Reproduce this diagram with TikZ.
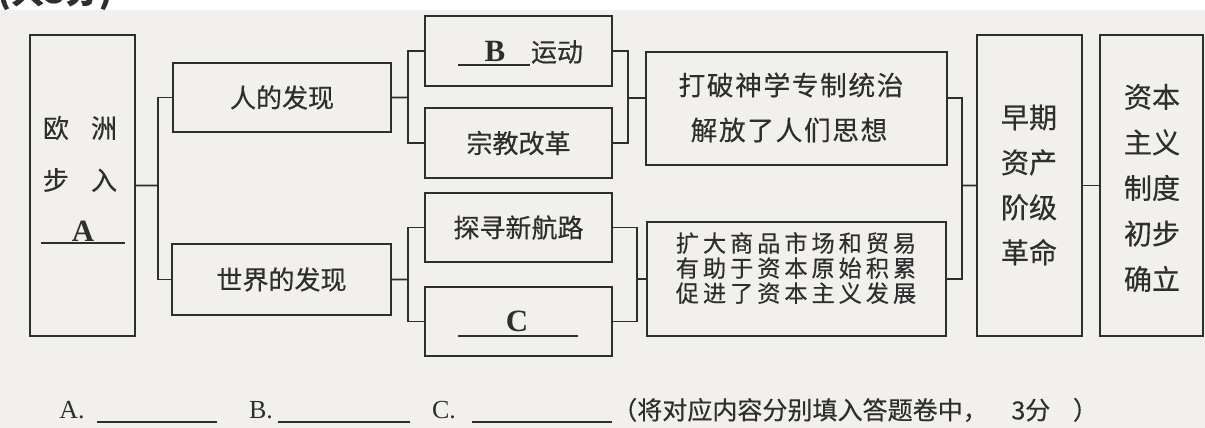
\documentclass[tikz,border=0pt]{standalone}
\usepackage{fontspec}
\setmainfont{Liberation Serif}
\newfontfamily\hei[FakeBold=0.4]{Noto Sans CJK SC}
\newfontfamily\heiwide[LetterSpace=6, FakeBold=0.4]{Noto Sans CJK SC}
\newfontfamily\heiwider[LetterSpace=17, FakeBold=0.4]{Noto Sans CJK SC}
\usetikzlibrary{fit}
\definecolor{ink}{HTML}{2E2E2E}
\definecolor{paper}{HTML}{F2F0EC}
\begin{document}
\begin{tikzpicture}[x=0.025cm, y=-0.025cm,
  every node/.style={text=ink},
  box/.style={draw=ink, line width=1.2pt, inner sep=0pt},
  link/.style={draw=ink, line width=1.2pt},
  rule/.style={draw=ink, line width=0.8pt},
  txt/.style={font=\hei\fontsize{18.5}{22}\selectfont},
  big/.style={font=\hei\fontsize{20}{32}\selectfont, align=center},
  lab/.style={font=\bfseries\fontsize{22}{24}\selectfont},
  ser/.style={font=\fontsize{18.5}{22}\selectfont}]

\useasboundingbox (0, 0) rectangle (1205, 428);
\fill[paper] (0, 10) rectangle (1205, 428) {};
\node[font=\hei\bfseries\fontsize{24}{26}\selectfont, anchor=base west, inner sep=0pt] (score) at (-3, 3) {(共3分)};

% left column
\node[box, fit={(30, 35) (135, 336)}] (europe) {};
\node[txt] (europe1) at (80, 128) {欧\hspace{0.85em}洲};
\node[txt] (europe2) at (80, 180) {步\hspace{0.85em}入};
\node[lab] (blankA) at (83, 231) {A};
\draw[rule] (41, 243) -- (125, 243) {};

\node[box, fit={(173, 63) (391, 132)}] (human) {};
\node[txt] (human1) at (human.center) {人的发现};
\node[box, fit={(172, 244) (391, 315)}] (world) {};
\node[txt] (world1) at (world.center) {世界的发现};

\coordinate (j1) at (158, 185.5);
\draw[link] (europe) -- (j1) {};
\draw[link] (human.west) -| (j1) |- (world.west) {};

% middle column
\node[box, fit={(425, 16) (612, 86)}] (move) {};
\node[lab] (blankB) at (495, 51) {B};
\draw[rule] (458, 65) -- (530, 65) {};
\node[txt] (move1) at (557, 52) {运动};
\node[box, fit={(425, 108) (612, 178)}] (reform) {};
\node[txt] (reform1) at (reform.center) {宗教改革};
\node[box, fit={(425, 193) (612, 262)}] (route) {};
\node[txt] (route1) at (route.center) {探寻新航路};
\node[box, fit={(425, 287) (612, 356)}] (third) {};
\node[lab] (blankC) at (517, 321) {C};
\draw[rule] (458, 336) -- (578, 336) {};

\coordinate (j2) at (408, 97.5);
\draw[link] (human) -- (j2) {};
\draw[link] (move.west) -| (j2) |- (reform.west) {};
\coordinate (j4) at (408, 279.5);
\draw[link] (world) -- (j4) {};
\draw[link] (route.west) -| (j4) |- (third.west) {};

% results
\node[box, fit={(646, 52) (947, 165)}] (freed) {};
\node[font=\heiwide\fontsize{19}{22}\selectfont] (freed1) at (791, 85) {打破神学专制统治};
\node[font=\heiwide\fontsize{19}{22}\selectfont] (freed2) at (789, 130) {解放了人们思想};
\node[box, fit={(647, 222) (946, 336)}] (trade) {};
\node[font=\heiwider\fontsize{16.5}{17.8}\selectfont, align=center] (trade1) at (796, 268) {扩大商品市场和贸易\\有助于资本原始积累\\促进了资本主义发展};

\coordinate (j3) at (628, 98);
\draw[link] (move.east) -| (j3) |- (reform.east) {};
\draw[link] (j3) -- (j3 -| freed.west) {};
\coordinate (j5) at (637, 279);
\draw[link] (route.east) -| (j5) |- (third.east) {};
\draw[link] (j5) -- (trade) {};

% right column
\node[box, fit={(977, 35) (1082, 336)}] (revolt) {};
\node[big] (revolt1) at (1029, 185) {早期\\资产\\阶级\\革命};
\node[box, fit={(1100, 35) (1203, 336)}] (system) {};
\node[big, font=\hei\fontsize{20}{32.4}\selectfont] (system1) at (1152, 188) {资本\\主义\\制度\\初步\\确立};

\coordinate (j6t) at (962, 98);
\coordinate (j6) at (962, 185.5);
\draw[link] (freed.east |- j6t) -- (j6t) |- (trade.east) {};
\draw[link] (j6) -- (revolt) {};
\draw[link] (revolt) -- (system) {};

% answer line
\node[ser] (ansA) at (72, 410) {A.};
\draw[rule] (97, 422) -- (217, 422) {};
\node[ser] (ansB) at (261, 410) {B.};
\draw[rule] (278, 422) -- (410, 422) {};
\node[ser] (ansC) at (444, 410) {C.};
\draw[rule] (472, 422) -- (612, 422) {};
\node[font=\hei\fontsize{17.8}{22}\selectfont, anchor=west, inner sep=0pt] (note) at (612, 410) {（将对应内容分别填入答题卷中，\hspace{0.95em}3分\hspace{0.9em}）};
\end{tikzpicture}
\end{document}
